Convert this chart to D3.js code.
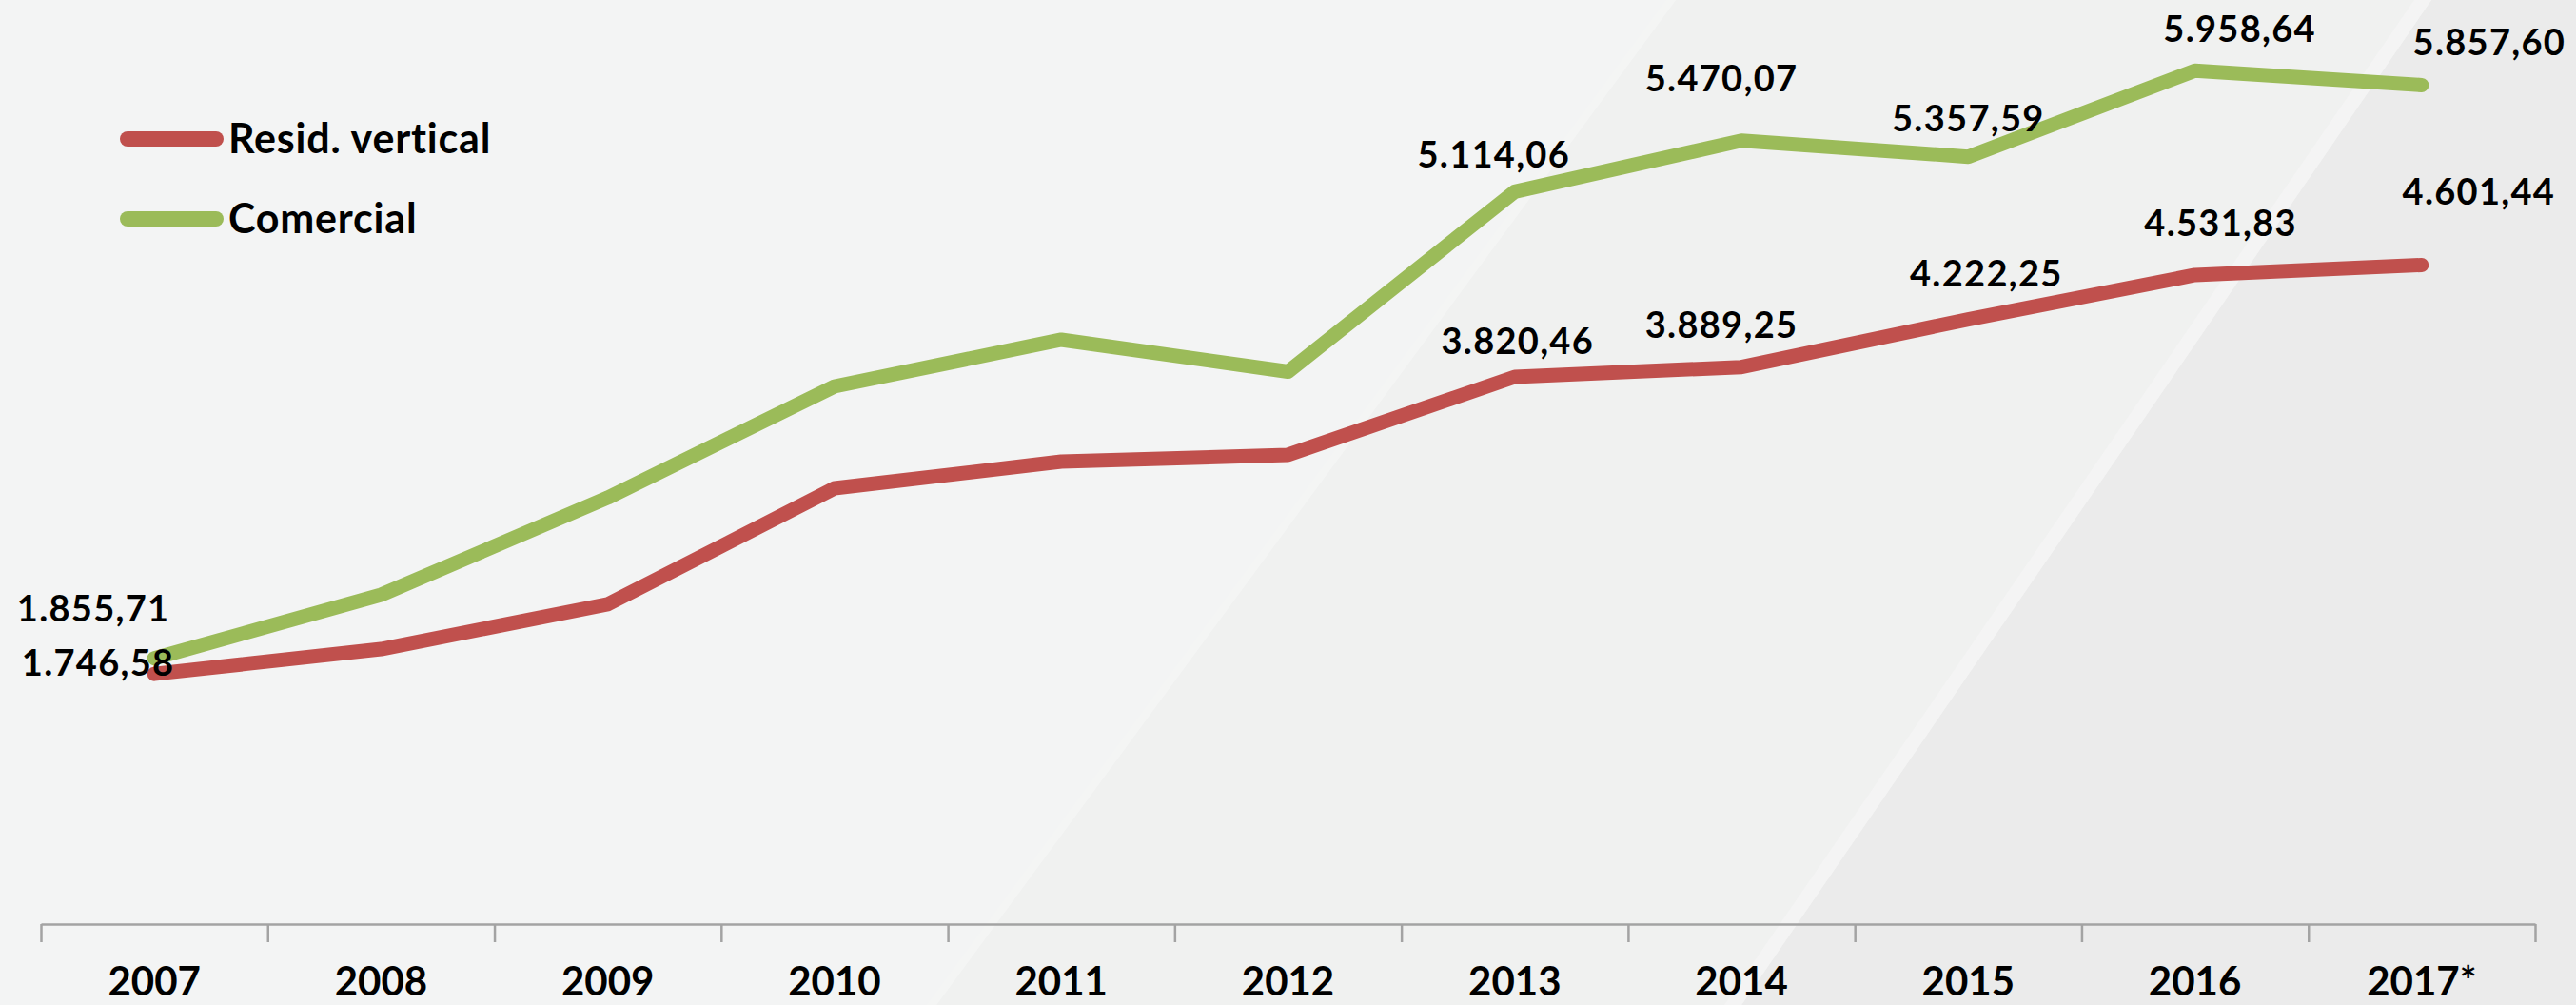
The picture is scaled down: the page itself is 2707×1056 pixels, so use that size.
<!DOCTYPE html>
<html>
<head>
<meta charset="utf-8">
<script src="https://cdn.jsdelivr.net/npm/d3@7/dist/d3.min.js"></script>
<style>
    html, body { margin: 0; padding: 0; background: #f3f4f4; }
    svg { display: block; }
    text { font-family: Lato, 'Noto Sans', sans-serif; font-weight: bold; fill: #000; }
</style>
</head>
<body>
<div id="container"></div>
<script>
// chart data
const years = ['2007', '2008', '2009', '2010', '2011', '2012', '2013', '2014', '2015', '2016', '2017*'];
const residVertical = [1746.58, 1920, 2233, 3043, 3229, 3276, 3820.46, 3889.25, 4222.25, 4531.83, 4601.44];
const comercial = [1855.71, 2299, 2977, 3754, 4080, 3857, 5114.06, 5470.07, 5357.59, 5958.64, 5857.60];
const labeledYears = ['2007', '2013', '2014', '2015', '2016', '2017*'];
const seriesNames = ['Resid. vertical', 'Comercial'];

// label nudges (px) for each labelled point, [dx, dy]
const residNudge = [[-59, 2], [3, -24], [-21, -31], [19, -35], [27, -41], [60, -63]];
const comercialNudge = [[-64, -39], [-22, -25], [-21, -52], [0, -27], [47, -30], [71, -31]];

const width = 2707;
const height = 1056;
const colors = ['#c0504d', '#9bbb59'];

const svg = d3.select('#container')
              .append('svg')
              .attr('width', width)
              .attr('height', height);

// background with diagonal panels
svg.append('rect')
   .attr('width', width)
   .attr('height', height)
   .attr('fill', '#f3f4f4');

svg.append('polygon')
   .attr('points', '984,1056 1761,0 2555,0 1830,1056')
   .attr('fill', '#f0f1f0');
svg.append('polygon')
   .attr('points', '1830,1056 2555,0 2707,0 2707,1056')
   .attr('fill', '#ebebeb');
svg.append('polygon')
   .attr('points', '974,1056 1751,0 1761,0 984,1056')
   .attr('fill', '#f4f5f4');
svg.append('polygon')
   .attr('points', '1812,1056 2537,0 2555,0 1830,1056')
   .attr('fill', '#f4f4f4');

// scales
const x = d3.scaleBand()
            .domain(years)
            .range([43, 2664]);

const xEdge = d3.scaleLinear()
                .domain([0, years.length])
                .range([43, 2664]);

const y = d3.scaleLinear()
            .domain([0, 6000])
            .range([971, 68]);

// axis with ticks between categories
svg.append('g')
   .attr('transform', `translate(0, ${y(0)})`)
   .call(d3.axisBottom(xEdge)
           .tickValues(d3.range(0, years.length + 1))
           .tickSize(19)
           .tickSizeOuter(0)
           .tickFormat(''))
   .call((g) => g.selectAll('path, line')
                 .attr('stroke', '#a3a3a3')
                 .attr('stroke-width', 2.5));

svg.append('g')
   .attr('transform', `translate(0, ${y(0)})`)
   .call(d3.axisBottom(x).tickSize(0).tickPadding(45))
   .call((g) => g.select('.domain').remove())
   .call((g) => g.selectAll('text')
                 .attr('font-family', 'Lato, sans-serif')
                 .attr('font-weight', 'bold')
                 .attr('font-size', 42)
                 .attr('fill', '#000'));

// lines
const line = d3.line()
               .x((d, i) => x(years[i]) + x.bandwidth() / 2)
               .y((d) => y(d));

const series = [residVertical, comercial];
const nudges = [residNudge, comercialNudge];

series.forEach((values, s) => {
    svg.append('path')
       .datum(values)
       .attr('d', line)
       .attr('fill', 'none')
       .attr('stroke', colors[s])
       .attr('stroke-width', 15)
       .attr('stroke-linecap', 'round')
       .attr('stroke-linejoin', 'round');
});

// data labels, brazilian number format
const br = d3.formatLocale({ decimal: ',', thousands: '.', grouping: [3], currency: ['R$', ''] });
const fmt = br.format(',.2f');

series.forEach((values, s) => {
    labeledYears.forEach((yr, k) => {
        const i = years.indexOf(yr);
        svg.append('text')
           .attr('x', x(yr) + x.bandwidth() / 2 + nudges[s][k][0])
           .attr('y', y(values[i]) + nudges[s][k][1])
           .attr('text-anchor', 'middle')
           .attr('font-size', 38)
           .attr('letter-spacing', 1.3)
           .text(fmt(values[i]));
    });
});

// legend
const legend = svg.append('g')
                  .selectAll('g')
                  .data(seriesNames)
                  .enter()
                  .append('g')
                  .attr('transform', (d, i) => `translate(0, ${146 + i * 84})`);

legend.append('line')
      .attr('x1', 134)
      .attr('x2', 227)
      .attr('stroke', (d, i) => colors[i])
      .attr('stroke-width', 16)
      .attr('stroke-linecap', 'round');

legend.append('text')
      .attr('x', 240)
      .attr('y', 15)
      .attr('font-size', 43)
      .attr('letter-spacing', 0.8)
      .text((d) => d);
</script>
</body>
</html>
